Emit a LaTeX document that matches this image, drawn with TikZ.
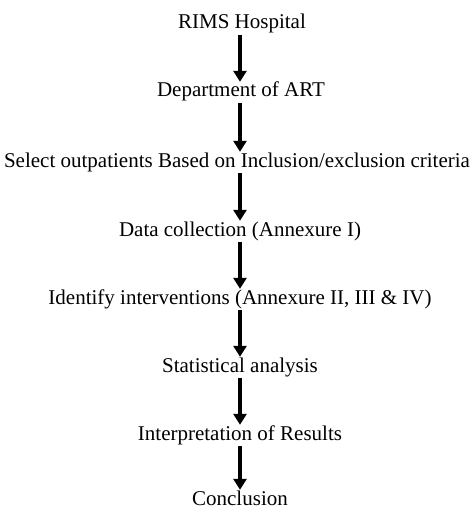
\documentclass[tikz,border=0pt]{standalone}
\usepackage{fontspec}
\setmainfont{Liberation Serif}
\usetikzlibrary{arrows.meta}

\tikzset{
  stage/.style={inner xsep=0pt, inner ysep=2pt, text height=14pt, text depth=4pt,
    font=\fontsize{21}{24}\selectfont},
  flow/.style={line width=3.2pt, shorten >=-1pt, -{Triangle[width=13pt,length=11pt]}}
}

\begin{document}
\begin{tikzpicture}[x=1pt,y=-1pt]
        \useasboundingbox (0,0) rectangle (473,508);

        % Nodes for the stages
        \node[stage] (hosp) at (242,24) {RIMS Hospital};
        \node[stage] (dept) at (241,92) {Department of ART};
        \node[stage] (select) at (237,162) {Select outpatients Based on Inclusion/exclusion criteria};
        \node[stage] (data) at (240,231) {Data collection (Annexure I)};
        \node[stage] (interv) at (240,299) {Identify interventions (Annexure II, III \& IV)};
        \node[stage] (stats) at (240,367) {Statistical analysis};
        \node[stage] (interp) at (240,435) {Interpretation of Results};
        \node[stage] (concl) at (240,500) {Conclusion};

        % Arrows between the stages
        \draw[flow] (hosp.south -| 240,0) -- (dept.north -| 240,0);
        \draw[flow] (dept.south -| 240,0) -- (select.north -| 240,0);
        \draw[flow] (select.south -| 240,0) -- (data.north -| 240,0);
        \draw[flow] (data.south -| 240,0) -- (interv.north -| 240,0);
        \draw[flow] (interv.south -| 240,0) -- (stats.north -| 240,0);
        \draw[flow] (stats.south -| 240,0) -- (interp.north -| 240,0);
        \draw[flow] (interp.south -| 240,0) -- (concl.north -| 240,0);
      \end{tikzpicture}
\end{document}
